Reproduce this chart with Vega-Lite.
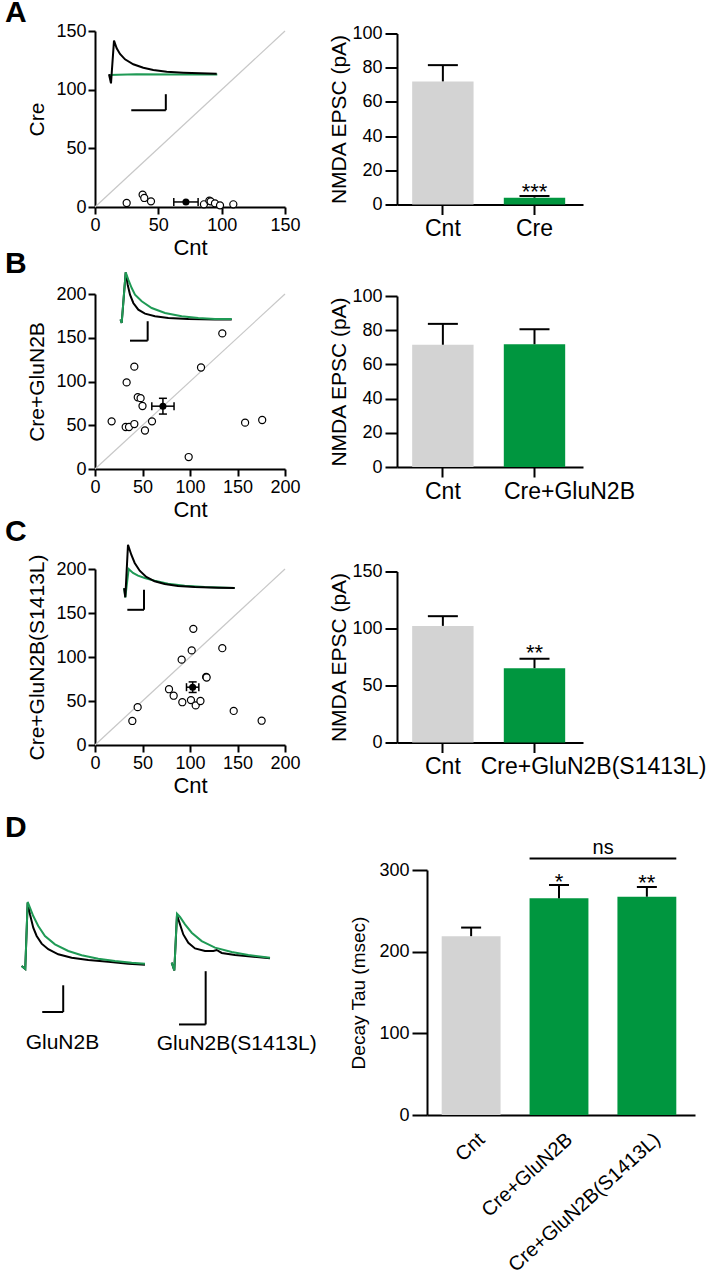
{
"$schema":"https://vega.github.io/schema/vega-lite/v6.json",
"padding":{"left":5,"top":-2,"right":0,"bottom":0},
"config":{
 "font":"Liberation Sans",
 "view":{"stroke":null},
 "axis":{"domainColor":"black","tickColor":"black","domainWidth":2,"tickWidth":2,"labelColor":"black","titleColor":"black","titleFontWeight":"normal","grid":false,"labelFlush":false,"labelOverlap":false,"labelFontSize":18,"titleFontSize":21,"labelFont":"Liberation Sans","titleFont":"Liberation Sans","labelLimit":400},
 "title":{"fontSize":30,"fontWeight":"bold","color":"black","anchor":"start","frame":"group","offset":0,"baseline":"top","font":"Liberation Sans"}
},
"vconcat":[
 {"vconcat":[
  {"vconcat":[
   {"hconcat":[
    {"width":190,"height":176,
     "title":{"text":"A","dx":-90,"dy":10},
     "resolve":{"scale":{"x":"independent","y":"independent"}},
     "layer":[
      {"layer":[
       {"data":{"values":[{"cnt":0,"cre":0},{"cnt":150,"cre":150}]},
        "mark":{"type":"line","color":"#c8c8c8","strokeWidth":1.2},
        "encoding":{
         "x":{"field":"cnt","type":"quantitative","scale":{"domain":[0,150],"nice":false,"zero":false},"axis":{"values":[0,50,100,150],"title":"Cnt","tickSize":7,"labelPadding":2,"titlePadding":3,"titleFontSize":22}},
         "y":{"field":"cre","type":"quantitative","scale":{"domain":[0,150],"nice":false,"zero":false},"axis":{"values":[0,50,100,150],"title":"Cre","tickSize":7,"labelPadding":2,"titlePadding":8}}}},
       {"data":{"values":[{"cnt":25,"cre":3.4},{"cnt":37.6,"cre":10.5},{"cnt":38.9,"cre":7.7},{"cnt":44.2,"cre":4.8},{"cnt":86,"cre":2.3},{"cnt":90.3,"cre":5.4},{"cnt":91.3,"cre":4.8},{"cnt":94.7,"cre":3.1},{"cnt":98.7,"cre":1.4},{"cnt":109.2,"cre":2.3}]},
        "mark":{"type":"circle","fill":"white","stroke":"black","strokeWidth":1.2,"size":50,"opacity":1},
        "encoding":{"x":{"field":"cnt","type":"quantitative"},"y":{"field":"cre","type":"quantitative"}}},
       {"data":{"values":[{"cnt":71.8,"cre":4.3,"xlo":62.2,"xhi":81.4,"ylo":3.1,"yhi":5.5}]},
        "layer":[
         {"mark":{"type":"rule","color":"black","strokeWidth":1.5},"encoding":{"x":{"field":"xlo","type":"quantitative"},"x2":{"field":"xhi"},"y":{"field":"cre","type":"quantitative"}}},
         {"mark":{"type":"rule","color":"black","strokeWidth":1.5},"encoding":{"x":{"field":"cnt","type":"quantitative"},"y":{"field":"ylo","type":"quantitative"},"y2":{"field":"yhi"}}},
         {"mark":{"type":"tick","orient":"vertical","size":8,"thickness":1.5,"color":"black","opacity":1},"encoding":{"x":{"field":"xlo","type":"quantitative"},"y":{"field":"cre","type":"quantitative"}}},
         {"mark":{"type":"tick","orient":"vertical","size":8,"thickness":1.5,"color":"black","opacity":1},"encoding":{"x":{"field":"xhi","type":"quantitative"},"y":{"field":"cre","type":"quantitative"}}},
         {"mark":{"type":"circle","color":"black","size":50,"opacity":1},"encoding":{"x":{"field":"cnt","type":"quantitative"},"y":{"field":"cre","type":"quantitative"}}}
        ]}
      ]},
      {"layer":[
       {"data":{"values":[
         {"s":"Cre","t":-8,"a":0},{"s":"Cre","t":150,"a":0.8},{"s":"Cre","t":400,"a":0.5},{"s":"Cre","t":618,"a":0.6},
         {"s":"Cnt","t":-9,"a":1},{"s":"Cnt","t":2.6,"a":-10.4},{"s":"Cnt","t":20,"a":42.9},{"s":"Cnt","t":35.6,"a":33.4},{"s":"Cnt","t":54.7,"a":26.3},{"s":"Cnt","t":83.7,"a":19.6},{"s":"Cnt","t":131.7,"a":13.4},{"s":"Cnt","t":189.6,"a":9.1},{"s":"Cnt","t":247.5,"a":6.3},{"s":"Cnt","t":325.1,"a":4.1},{"s":"Cnt","t":421.2,"a":2.9},{"s":"Cnt","t":517.9,"a":2.1},{"s":"Cnt","t":614.6,"a":1.6}]},
        "mark":{"type":"line","strokeWidth":2},
        "encoding":{
         "x":{"field":"t","type":"quantitative","scale":{"domain":[-90,1010],"nice":false,"zero":false},"axis":null},
         "y":{"field":"a","type":"quantitative","scale":{"domain":[-165,55],"nice":false,"zero":false},"axis":null},
         "stroke":{"field":"s","type":"nominal","scale":{"domain":["Cre","Cnt"],"range":["#1f9a55","#000000"]},"legend":null}}},
       {"data":{"values":[{"t1":120,"t2":320,"a1":-44,"a2":-44},{"t1":320,"t2":320,"a1":-44,"a2":-24}]},
        "mark":{"type":"rule","color":"black","strokeWidth":2},
        "encoding":{"x":{"field":"t1","type":"quantitative","axis":null},"x2":{"field":"t2"},"y":{"field":"a1","type":"quantitative","axis":null},"y2":{"field":"a2"}}}
      ]}
     ]},
    {"width":186,"height":171,
     "data":{"values":[{"g":"Cnt","grp":"ctrl","m":72,"hi":81.5,"sig":""},{"g":"Cre","grp":"cre","m":4,"hi":5,"sig":"***"}]},
     "encoding":{"x":{"field":"g","type":"nominal","sort":null,"scale":{"paddingInner":0.33,"paddingOuter":0.18,"align":0.46},"axis":{"title":null,"labelAngle":0,"tickSize":10,"labelPadding":3,"labelFontSize":23}}},
     "layer":[
      {"mark":{"type":"bar"},"encoding":{"y":{"field":"m","type":"quantitative","scale":{"domain":[0,100],"nice":false},"axis":{"values":[0,20,40,60,80,100],"labelOverlap":false,"title":"NMDA EPSC (pA)","tickSize":12,"labelPadding":3,"titlePadding":2}},"fill":{"field":"grp","type":"nominal","scale":{"domain":["ctrl","cre"],"range":["#d3d3d3","#00963f"]},"legend":null}}},
      {"mark":{"type":"rule","color":"black","strokeWidth":2},"encoding":{"y":{"field":"m","type":"quantitative","axis":{"values":[0,20,40,60,80,100],"labelOverlap":false,"title":"NMDA EPSC (pA)","tickSize":12,"labelPadding":3,"titlePadding":2}},"y2":{"field":"hi"}}},
      {"mark":{"type":"tick","orient":"horizontal","size":30,"thickness":2,"color":"black","opacity":1},"encoding":{"y":{"field":"hi","type":"quantitative","axis":{"values":[0,20,40,60,80,100],"labelOverlap":false,"title":"NMDA EPSC (pA)","tickSize":12,"labelPadding":3,"titlePadding":2}}}},
      {"mark":{"type":"text","fontSize":22,"dy":3,"baseline":"alphabetic","color":"black"},"encoding":{"y":{"field":"hi","type":"quantitative","axis":{"values":[0,20,40,60,80,100],"labelOverlap":false,"title":"NMDA EPSC (pA)","tickSize":12,"labelPadding":3,"titlePadding":2}},"text":{"field":"sig"}}}
     ]}
   ],"spacing":112,"bounds":"flush","center":true},
   {"hconcat":[
    {"width":190,"height":175,
     "title":{"text":"B","dx":-90,"dy":14.5},
     "resolve":{"scale":{"x":"independent","y":"independent"}},
     "layer":[
      {"layer":[
       {"data":{"values":[{"cnt":0,"cre":0},{"cnt":200,"cre":200}]},
        "mark":{"type":"line","color":"#c8c8c8","strokeWidth":1.2},
        "encoding":{
         "x":{"field":"cnt","type":"quantitative","scale":{"domain":[0,200],"nice":false,"zero":false},"axis":{"values":[0,50,100,150,200],"title":"Cnt","tickSize":7,"labelPadding":2,"titlePadding":3,"titleFontSize":22}},
         "y":{"field":"cre","type":"quantitative","scale":{"domain":[0,200],"nice":false,"zero":false},"axis":{"values":[0,50,100,150,200],"title":"Cre+GluN2B","tickSize":7,"labelPadding":2,"titlePadding":8}}}},
       {"data":{"values":[{"cnt":17.5,"cre":54.5},{"cnt":32.3,"cre":48},{"cnt":35.8,"cre":48},{"cnt":41.4,"cre":51.4},{"cnt":33.3,"cre":99},{"cnt":41.4,"cre":117},{"cnt":45,"cre":82},{"cnt":48,"cre":81},{"cnt":50,"cre":72},{"cnt":52.6,"cre":44},{"cnt":60,"cre":54.5},{"cnt":98.6,"cre":13.7},{"cnt":111.6,"cre":116},{"cnt":134,"cre":155},{"cnt":158,"cre":53},{"cnt":176,"cre":56}]},
        "mark":{"type":"circle","fill":"white","stroke":"black","strokeWidth":1.2,"size":50,"opacity":1},
        "encoding":{"x":{"field":"cnt","type":"quantitative"},"y":{"field":"cre","type":"quantitative"}}},
       {"data":{"values":[{"cnt":71.5,"cre":71.8,"xlo":59.8,"xhi":83.2,"ylo":62.8,"yhi":80.8}]},
        "layer":[
         {"mark":{"type":"rule","color":"black","strokeWidth":1.5},"encoding":{"x":{"field":"xlo","type":"quantitative"},"x2":{"field":"xhi"},"y":{"field":"cre","type":"quantitative"}}},
         {"mark":{"type":"rule","color":"black","strokeWidth":1.5},"encoding":{"x":{"field":"cnt","type":"quantitative"},"y":{"field":"ylo","type":"quantitative"},"y2":{"field":"yhi"}}},
         {"mark":{"type":"tick","orient":"vertical","size":8,"thickness":1.5,"color":"black","opacity":1},"encoding":{"x":{"field":"xlo","type":"quantitative"},"y":{"field":"cre","type":"quantitative"}}},
         {"mark":{"type":"tick","orient":"vertical","size":8,"thickness":1.5,"color":"black","opacity":1},"encoding":{"x":{"field":"xhi","type":"quantitative"},"y":{"field":"cre","type":"quantitative"}}},
         {"mark":{"type":"tick","orient":"horizontal","size":8,"thickness":1.5,"color":"black","opacity":1},"encoding":{"x":{"field":"cnt","type":"quantitative"},"y":{"field":"ylo","type":"quantitative"}}},
         {"mark":{"type":"tick","orient":"horizontal","size":8,"thickness":1.5,"color":"black","opacity":1},"encoding":{"x":{"field":"cnt","type":"quantitative"},"y":{"field":"yhi","type":"quantitative"}}},
         {"mark":{"type":"circle","color":"black","size":50,"opacity":1},"encoding":{"x":{"field":"cnt","type":"quantitative"},"y":{"field":"cre","type":"quantitative"}}}
        ]}
      ]},
      {"layer":[
       {"data":{"values":[
         {"s":"Cnt","t":-11,"a":-0.6},{"s":"Cnt","t":2,"a":-9.6},{"s":"Cnt","t":47.4,"a":120.8},{"s":"Cnt","t":70,"a":88.9},{"s":"Cnt","t":96.1,"a":63.2},{"s":"Cnt","t":133.4,"a":41.9},{"s":"Cnt","t":190,"a":24.6},{"s":"Cnt","t":265.8,"a":14.4},{"s":"Cnt","t":379,"a":7.7},{"s":"Cnt","t":529.5,"a":3.3},{"s":"Cnt","t":755.8,"a":0.7},{"s":"Cnt","t":1057.9,"a":-0.5},{"s":"Cnt","t":1247,"a":-0.5},
         {"s":"Cre","t":-11,"a":-0.6},{"s":"Cre","t":2,"a":-9.6},{"s":"Cre","t":47.4,"a":120.8},{"s":"Cre","t":76.8,"a":101.8},{"s":"Cre","t":115.3,"a":80.4},{"s":"Cre","t":152.6,"a":63.2},{"s":"Cre","t":228.5,"a":46.2},{"s":"Cre","t":341.6,"a":29},{"s":"Cre","t":492.1,"a":16.1},{"s":"Cre","t":681.1,"a":7.6},{"s":"Cre","t":868.9,"a":3.3},{"s":"Cre","t":1057.9,"a":0.7},{"s":"Cre","t":1246.9,"a":0.7}]},
        "mark":{"type":"line","strokeWidth":2},
        "encoding":{
         "x":{"field":"t","type":"quantitative","scale":{"domain":[-300,1850],"nice":false,"zero":false},"axis":null},
         "y":{"field":"a","type":"quantitative","scale":{"domain":[-385,65],"nice":false,"zero":false},"axis":null},
         "stroke":{"field":"s","type":"nominal","scale":{"domain":["Cre","Cnt"],"range":["#1f9a55","#000000"]},"legend":null}}},
       {"data":{"values":[{"t1":96,"t2":296,"a1":-55,"a2":-55},{"t1":296,"t2":296,"a1":-55,"a2":-5}]},
        "mark":{"type":"rule","color":"black","strokeWidth":2},
        "encoding":{"x":{"field":"t1","type":"quantitative","axis":null},"x2":{"field":"t2"},"y":{"field":"a1","type":"quantitative","axis":null},"y2":{"field":"a2"}}}
      ]}
     ]},
    {"width":186,"height":171,
     "data":{"values":[{"g":"Cnt","grp":"ctrl","m":71.5,"hi":83.7},{"g":"Cre+GluN2B","grp":"cre","m":71.8,"hi":80.5}]},
     "encoding":{"x":{"field":"g","type":"nominal","sort":null,"scale":{"paddingInner":0.33,"paddingOuter":0.18,"align":0.46},"axis":{"title":null,"labelAngle":0,"tickSize":10,"labelPadding":3,"labelFontSize":23,"labelOffset":{"condition":{"test":"datum.value === 'Cnt'","value":0},"value":35}}}},
     "layer":[
      {"mark":{"type":"bar"},"encoding":{"y":{"field":"m","type":"quantitative","scale":{"domain":[0,100],"nice":false},"axis":{"values":[0,20,40,60,80,100],"labelOverlap":false,"title":"NMDA EPSC (pA)","tickSize":12,"labelPadding":3,"titlePadding":2}},"fill":{"field":"grp","type":"nominal","scale":{"domain":["ctrl","cre"],"range":["#d3d3d3","#00963f"]},"legend":null}}},
      {"mark":{"type":"rule","color":"black","strokeWidth":2},"encoding":{"y":{"field":"m","type":"quantitative","axis":{"values":[0,20,40,60,80,100],"labelOverlap":false,"title":"NMDA EPSC (pA)","tickSize":12,"labelPadding":3,"titlePadding":2}},"y2":{"field":"hi"}}},
      {"mark":{"type":"tick","orient":"horizontal","size":30,"thickness":2,"color":"black","opacity":1},"encoding":{"y":{"field":"hi","type":"quantitative","axis":{"values":[0,20,40,60,80,100],"labelOverlap":false,"title":"NMDA EPSC (pA)","tickSize":12,"labelPadding":3,"titlePadding":2}}}}
     ]}
   ],"spacing":112,"bounds":"flush","center":true}
  ],"spacing":-10},
  {"hconcat":[
   {"width":190,"height":176,
    "title":{"text":"C","dx":-90,"dy":10.7},
    "resolve":{"scale":{"x":"independent","y":"independent"}},
    "layer":[
     {"layer":[
      {"data":{"values":[{"cnt":0,"cre":0},{"cnt":200,"cre":200}]},
       "mark":{"type":"line","color":"#c8c8c8","strokeWidth":1.2},
       "encoding":{
        "x":{"field":"cnt","type":"quantitative","scale":{"domain":[0,200],"nice":false,"zero":false},"axis":{"values":[0,50,100,150,200],"title":"Cnt","tickSize":7,"labelPadding":2,"titlePadding":3,"titleFontSize":22}},
        "y":{"field":"cre","type":"quantitative","scale":{"domain":[0,200],"nice":false,"zero":false},"axis":{"values":[0,50,100,150,200],"title":"Cre+GluN2B(S1413L)","tickSize":7,"labelPadding":2,"titlePadding":8}}}},
      {"data":{"values":[{"cnt":39.3,"cre":27.3},{"cnt":44.9,"cre":43},{"cnt":77.9,"cre":63.4},{"cnt":82.8,"cre":56},{"cnt":91.2,"cre":97},{"cnt":91.9,"cre":48.6},{"cnt":101,"cre":51},{"cnt":101.8,"cre":107.5},{"cnt":103.5,"cre":132},{"cnt":106,"cre":45},{"cnt":111,"cre":50},{"cnt":117,"cre":77.4},{"cnt":117.5,"cre":76.7},{"cnt":134,"cre":110},{"cnt":146,"cre":38.7},{"cnt":175.4,"cre":27.6}]},
       "mark":{"type":"circle","fill":"white","stroke":"black","strokeWidth":1.2,"size":50,"opacity":1},
       "encoding":{"x":{"field":"cnt","type":"quantitative"},"y":{"field":"cre","type":"quantitative"}}},
      {"data":{"values":[{"cnt":102.8,"cre":65.7,"xlo":96.3,"xhi":109.3,"ylo":59.7,"yhi":71.7}]},
       "layer":[
        {"mark":{"type":"rule","color":"black","strokeWidth":1.5},"encoding":{"x":{"field":"xlo","type":"quantitative"},"x2":{"field":"xhi"},"y":{"field":"cre","type":"quantitative"}}},
        {"mark":{"type":"rule","color":"black","strokeWidth":1.5},"encoding":{"x":{"field":"cnt","type":"quantitative"},"y":{"field":"ylo","type":"quantitative"},"y2":{"field":"yhi"}}},
        {"mark":{"type":"tick","orient":"vertical","size":8,"thickness":1.5,"color":"black","opacity":1},"encoding":{"x":{"field":"xlo","type":"quantitative"},"y":{"field":"cre","type":"quantitative"}}},
        {"mark":{"type":"tick","orient":"vertical","size":8,"thickness":1.5,"color":"black","opacity":1},"encoding":{"x":{"field":"xhi","type":"quantitative"},"y":{"field":"cre","type":"quantitative"}}},
        {"mark":{"type":"tick","orient":"horizontal","size":8,"thickness":1.5,"color":"black","opacity":1},"encoding":{"x":{"field":"cnt","type":"quantitative"},"y":{"field":"ylo","type":"quantitative"}}},
        {"mark":{"type":"tick","orient":"horizontal","size":8,"thickness":1.5,"color":"black","opacity":1},"encoding":{"x":{"field":"cnt","type":"quantitative"},"y":{"field":"yhi","type":"quantitative"}}},
        {"mark":{"type":"circle","color":"black","size":50,"opacity":1},"encoding":{"x":{"field":"cnt","type":"quantitative"},"y":{"field":"cre","type":"quantitative"}}}
       ]}
     ]},
     {"layer":[
      {"data":{"values":[
        {"s":"Cre","t":-10,"a":0},{"s":"Cre","t":3.6,"a":-22.75},{"s":"Cre","t":44.4,"a":48},{"s":"Cre","t":96,"a":38},{"s":"Cre","t":156,"a":31.25},{"s":"Cre","t":236.4,"a":25.5},{"s":"Cre","t":356.4,"a":18.75},{"s":"Cre","t":516,"a":11.25},{"s":"Cre","t":716.4,"a":6.25},{"s":"Cre","t":956.4,"a":3},{"s":"Cre","t":1316.4,"a":0.5},
        {"s":"Cnt","t":-10,"a":0},{"s":"Cnt","t":3.6,"a":-22.75},{"s":"Cnt","t":36,"a":108.75},{"s":"Cnt","t":75.6,"a":83.75},{"s":"Cnt","t":116.4,"a":63},{"s":"Cnt","t":176.4,"a":43.75},{"s":"Cnt","t":255.6,"a":28},{"s":"Cnt","t":356.4,"a":17.25},{"s":"Cnt","t":476.4,"a":10.5},{"s":"Cnt","t":636,"a":5.5},{"s":"Cnt","t":836.4,"a":3},{"s":"Cnt","t":1116,"a":1.25},{"s":"Cnt","t":1316.4,"a":0.5}]},
       "mark":{"type":"line","strokeWidth":2},
       "encoding":{
        "x":{"field":"t","type":"quantitative","scale":{"domain":[-360,1920],"nice":false,"zero":false},"axis":null},
        "y":{"field":"a","type":"quantitative","scale":{"domain":[-392,48],"nice":false,"zero":false},"axis":null},
        "stroke":{"field":"s","type":"nominal","scale":{"domain":["Cre","Cnt"],"range":["#1f9a55","#000000"]},"legend":null}}},
      {"data":{"values":[{"t1":28,"t2":228,"a1":-54,"a2":-54},{"t1":228,"t2":228,"a1":-54,"a2":-4}]},
       "mark":{"type":"rule","color":"black","strokeWidth":2},
       "encoding":{"x":{"field":"t1","type":"quantitative","axis":null},"x2":{"field":"t2"},"y":{"field":"a1","type":"quantitative","axis":null},"y2":{"field":"a2"}}}
     ]}
    ]},
   {"width":186,"height":171,
    "data":{"values":[{"g":"Cnt","grp":"ctrl","m":102.3,"hi":110.8,"sig":""},{"g":"Cre+GluN2B(S1413L)","grp":"cre","m":65.2,"hi":73.4,"sig":"**"}]},
    "encoding":{"x":{"field":"g","type":"nominal","sort":null,"scale":{"paddingInner":0.33,"paddingOuter":0.18,"align":0.46},"axis":{"title":null,"labelAngle":0,"tickSize":10,"labelPadding":3,"labelFontSize":23,"labelOffset":{"condition":{"test":"datum.value === 'Cnt'","value":0},"value":59}}}},
    "layer":[
     {"mark":{"type":"bar"},"encoding":{"y":{"field":"m","type":"quantitative","scale":{"domain":[0,150],"nice":false},"axis":{"values":[0,50,100,150],"labelOverlap":false,"title":"NMDA EPSC (pA)","tickSize":12,"labelPadding":3,"titlePadding":2}},"fill":{"field":"grp","type":"nominal","scale":{"domain":["ctrl","cre"],"range":["#d3d3d3","#00963f"]},"legend":null}}},
     {"mark":{"type":"rule","color":"black","strokeWidth":2},"encoding":{"y":{"field":"m","type":"quantitative","axis":{"values":[0,50,100,150],"labelOverlap":false,"title":"NMDA EPSC (pA)","tickSize":12,"labelPadding":3,"titlePadding":2}},"y2":{"field":"hi"}}},
     {"mark":{"type":"tick","orient":"horizontal","size":30,"thickness":2,"color":"black","opacity":1},"encoding":{"y":{"field":"hi","type":"quantitative","axis":{"values":[0,50,100,150],"labelOverlap":false,"title":"NMDA EPSC (pA)","tickSize":12,"labelPadding":3,"titlePadding":2}}}},
     {"mark":{"type":"text","fontSize":22,"dy":1.5,"baseline":"alphabetic","color":"black"},"encoding":{"y":{"field":"hi","type":"quantitative","axis":{"values":[0,50,100,150],"labelOverlap":false,"title":"NMDA EPSC (pA)","tickSize":12,"labelPadding":3,"titlePadding":2}},"text":{"field":"sig"}}}
    ]}
  ],"spacing":112,"bounds":"flush","center":true}
 ],"spacing":-3},
 {"hconcat":[
  {"width":220,"height":245,
   "title":{"text":"D","dx":-90,"dy":-22.7},
   "resolve":{"scale":{"x":"independent","y":"independent"}},
   "layer":[
    {"layer":[
     {"data":{"values":[
       {"s":"Cnt","t":3.9,"a":-3.8},{"s":"Cnt","t":38.2,"a":-9.5},{"s":"Cnt","t":61.1,"a":114.7},{"s":"Cnt","t":83,"a":93},{"s":"Cnt","t":114.5,"a":68},{"s":"Cnt","t":146.9,"a":52.4},{"s":"Cnt","t":194.5,"a":38},{"s":"Cnt","t":257.4,"a":27.5},{"s":"Cnt","t":352.8,"a":18.1},{"s":"Cnt","t":480.5,"a":11.8},{"s":"Cnt","t":638.8,"a":7.5},{"s":"Cnt","t":829.4,"a":4.3},{"s":"Cnt","t":1020.1,"a":0.5},{"s":"Cnt","t":1179.3,"a":-1.3},
       {"s":"Cre","t":3.9,"a":-3.8},{"s":"Cre","t":38.2,"a":-9.5},{"s":"Cre","t":61.1,"a":116.1},{"s":"Cre","t":83,"a":105.4},{"s":"Cre","t":114.5,"a":89.8},{"s":"Cre","t":162.1,"a":71.1},{"s":"Cre","t":226,"a":52.4},{"s":"Cre","t":321.3,"a":36.8},{"s":"Cre","t":448.1,"a":24.3},{"s":"Cre","t":575.8,"a":16.2},{"s":"Cre","t":734.1,"a":9.9},{"s":"Cre","t":893.3,"a":5.5},{"s":"Cre","t":1052.5,"a":2.4},{"s":"Cre","t":1179.3,"a":0.5}]},
      "mark":{"type":"line","strokeWidth":2},
      "encoding":{
       "x":{"field":"t","type":"quantitative","scale":{"domain":[703,2800],"nice":false,"zero":false},"axis":null},
       "y":{"field":"a","type":"quantitative","scale":{"domain":[-283,176],"nice":false,"zero":false},"axis":null},
       "stroke":{"field":"s","type":"nominal","scale":{"domain":["Cnt","Cre"],"range":["#000000","#1f9a55"]},"legend":null}}},
     {"data":{"values":[{"t1":200,"t2":400,"a1":-90,"a2":-90},{"t1":400,"t2":400,"a1":-90,"a2":-40}]},
      "mark":{"type":"rule","color":"black","strokeWidth":2},
      "encoding":{"x":{"field":"t1","type":"quantitative","axis":null},"x2":{"field":"t2"},"y":{"field":"a1","type":"quantitative","axis":null},"y2":{"field":"a2"}}},
     {"data":{"values":[{"t":392.8,"a":-149,"lab":"GluN2B"}]},
      "mark":{"type":"text","fontSize":21,"align":"center","baseline":"middle","color":"black"},
      "encoding":{"x":{"field":"t","type":"quantitative","axis":null},"y":{"field":"a","type":"quantitative","axis":null},"text":{"field":"lab"}}}
    ]},
    {"layer":[
     {"data":{"values":[
       {"s":"Cnt","t":0.3,"a":-4},{"s":"Cnt","t":19.8,"a":-11.2},{"s":"Cnt","t":40,"a":40.8},{"s":"Cnt","t":62.5,"a":32},{"s":"Cnt","t":87.3,"a":22.5},{"s":"Cnt","t":124.8,"a":14.7},{"s":"Cnt","t":175,"a":9.4},{"s":"Cnt","t":250,"a":7},{"s":"Cnt","t":312.3,"a":7},{"s":"Cnt","t":337.8,"a":7.9},{"s":"Cnt","t":375.3,"a":5.1},{"s":"Cnt","t":475,"a":3.2},{"s":"Cnt","t":574.8,"a":2},{"s":"Cnt","t":737.5,"a":0.1},
       {"s":"Cre","t":0.3,"a":-4},{"s":"Cre","t":19.8,"a":-11.2},{"s":"Cre","t":40,"a":42},{"s":"Cre","t":62.5,"a":38.9},{"s":"Cre","t":100,"a":32},{"s":"Cre","t":150.3,"a":24.1},{"s":"Cre","t":225.3,"a":16.3},{"s":"Cre","t":325,"a":10.1},{"s":"Cre","t":450.3,"a":6},{"s":"Cre","t":574.8,"a":3.2},{"s":"Cre","t":737.5,"a":0.7}]},
      "mark":{"type":"line","strokeWidth":2},
      "encoding":{
       "x":{"field":"t","type":"quantitative","scale":{"domain":[-575,1075],"nice":false,"zero":false},"axis":null},
       "y":{"field":"a","type":"quantitative","scale":{"domain":[-147,83],"nice":false,"zero":false},"axis":null},
       "stroke":{"field":"s","type":"nominal","scale":{"domain":["Cnt","Cre"],"range":["#000000","#1f9a55"]},"legend":null}}},
     {"data":{"values":[{"t1":55,"t2":255,"a1":-62,"a2":-62},{"t1":255,"t2":255,"a1":-62,"a2":-12}]},
      "mark":{"type":"rule","color":"black","strokeWidth":2},
      "encoding":{"x":{"field":"t1","type":"quantitative","axis":null},"x2":{"field":"t2"},"y":{"field":"a1","type":"quantitative","axis":null},"y2":{"field":"a2"}}},
     {"data":{"values":[{"t":487.8,"a":-79.9,"lab":"GluN2B(S1413L)"}]},
      "mark":{"type":"text","fontSize":21,"align":"center","baseline":"middle","color":"black"},
      "encoding":{"x":{"field":"t","type":"quantitative","axis":null},"y":{"field":"a","type":"quantitative","axis":null},"text":{"field":"lab"}}}
    ]}
   ]},
  {"width":268,"height":245,
   "layer":[
    {"data":{"values":[{"g":"Cnt","grp":"ctrl","m":219,"hi":229.5,"sig":""},{"g":"Cre+GluN2B","grp":"cre","m":265.3,"hi":281.6,"sig":"*"},{"g":"Cre+GluN2B(S1413L)","grp":"cre","m":267.3,"hi":279.2,"sig":"**"}]},
     "layer":[
      {"mark":{"type":"bar"},"encoding":{
        "x":{"field":"g","type":"nominal","sort":null,"scale":{"domain":["Cnt","Cre+GluN2B","Cre+GluN2B(S1413L)"],"paddingInner":0.33,"paddingOuter":0.19,"align":0.44},"axis":{"title":null,"labelAngle":-42,"ticks":false,"tickSize":0,"labelPadding":14,"labelOffset":4,"labelFontSize":20}},
        "y":{"field":"m","type":"quantitative","scale":{"domain":[0,300],"nice":false},"axis":{"values":[0,100,200,300],"labelOverlap":false,"title":"Decay Tau (msec)","titleFontSize":19,"tickSize":15,"labelPadding":3,"titlePadding":10}},
        "fill":{"field":"grp","type":"nominal","scale":{"domain":["ctrl","cre"],"range":["#d3d3d3","#00963f"]},"legend":null}}},
      {"mark":{"type":"rule","color":"black","strokeWidth":2},"encoding":{"x":{"field":"g","type":"nominal"},"y":{"field":"m","type":"quantitative","axis":{"values":[0,100,200,300],"labelOverlap":false,"title":"Decay Tau (msec)","titleFontSize":19,"tickSize":15,"labelPadding":3,"titlePadding":10}},"y2":{"field":"hi"}}},
      {"mark":{"type":"tick","orient":"horizontal","size":20,"thickness":2,"color":"black","opacity":1},"encoding":{"x":{"field":"g","type":"nominal"},"y":{"field":"hi","type":"quantitative","axis":{"values":[0,100,200,300],"labelOverlap":false,"title":"Decay Tau (msec)","titleFontSize":19,"tickSize":15,"labelPadding":3,"titlePadding":10}}}},
      {"mark":{"type":"text","fontSize":22,"dy":3.5,"baseline":"alphabetic","color":"black"},"encoding":{"x":{"field":"g","type":"nominal"},"y":{"field":"hi","type":"quantitative","axis":{"values":[0,100,200,300],"labelOverlap":false,"title":"Decay Tau (msec)","titleFontSize":19,"tickSize":15,"labelPadding":3,"titlePadding":10}},"text":{"field":"sig"}}}
     ]},
    {"data":{"values":[{"a":"Cre+GluN2B","b":"Cre+GluN2B(S1413L)","y":314,"lab":"ns"}]},
     "layer":[
      {"mark":{"type":"rule","color":"black","strokeWidth":2},"encoding":{"x":{"field":"a","type":"nominal","bandPosition":0},"x2":{"field":"b","bandPosition":1},"y":{"field":"y","type":"quantitative","axis":{"values":[0,100,200,300],"labelOverlap":false,"title":"Decay Tau (msec)","titleFontSize":19,"tickSize":15,"labelPadding":3,"titlePadding":10}}}},
      {"mark":{"type":"text","fontSize":20,"dy":-5,"baseline":"alphabetic","color":"black"},"encoding":{"x":{"field":"a","type":"nominal","bandPosition":1.25},"y":{"field":"y","type":"quantitative","axis":{"values":[0,100,200,300],"labelOverlap":false,"title":"Decay Tau (msec)","titleFontSize":19,"tickSize":15,"labelPadding":3,"titlePadding":10}},"text":{"field":"lab"}}}
     ]}
   ]}
 ],"spacing":112,"bounds":"flush","center":true}
],"spacing":17}
